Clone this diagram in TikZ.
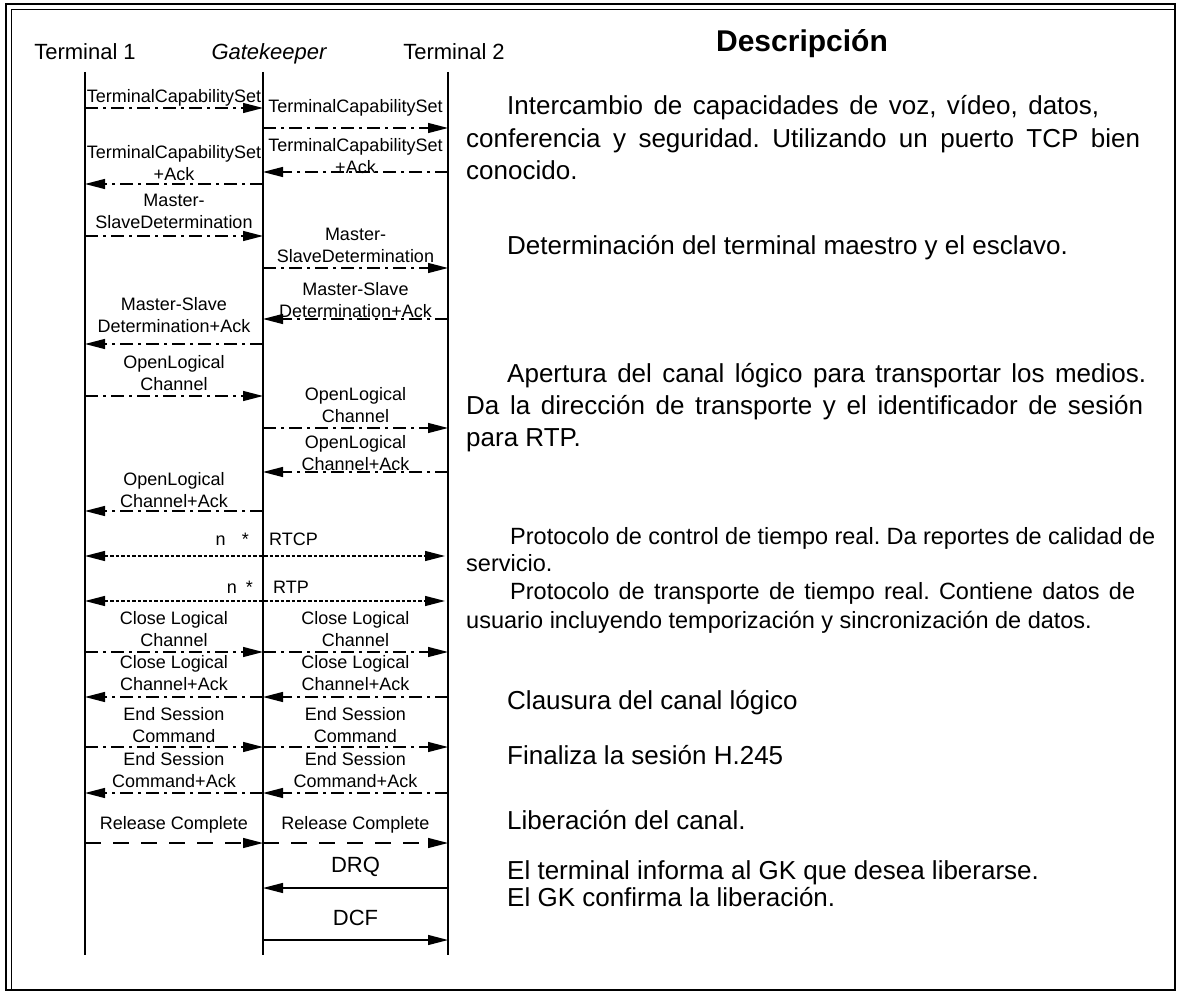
\documentclass[tikz,border=0pt]{standalone}
\usepackage{fontspec}
\setmainfont{Liberation Sans}
\usetikzlibrary{arrows.meta,positioning}
\frenchspacing

% stretch a line of text to a given width (justified line)
\newcommand{\justline}[2]{\makebox[#1][s]{#2}}

\begin{document}
\begin{tikzpicture}[
x=1pt, y=-1pt,
font=\fontsize{18}{21.5}\selectfont,
lbl/.style={align=center, inner sep=1pt},
head/.style={font=\fontsize{22}{26}\selectfont, anchor=base},
desc/.style={font=\fontsize{26}{32}\selectfont, anchor=base west, inner sep=0pt},
descsmall/.style={font=\fontsize{23.5}{28}\selectfont, anchor=base west, inner sep=0pt},
life/.style={line width=1.3pt},
msgtip/.style={-{Triangle[length=20pt,width=10pt]}},
ctrl/.style={msgtip, line width=1.3pt, dash pattern=on 13pt off 5pt on 3pt off 5pt},
media/.style={{Triangle[length=20pt,width=10pt]}-{Triangle[length=20pt,width=10pt]}, line width=1.3pt, dash pattern=on 3.5pt off 2pt, shorten >=3pt},
release/.style={msgtip, line width=1.3pt, dash pattern=on 16pt off 12pt},
ras/.style={msgtip, line width=1.3pt}
]
    \useasboundingbox (0,0) rectangle (1178,992);

    % Double frame
    \draw[line width=2.5pt] (6,4) rectangle (1175,990);
    \draw[line width=0.8pt] (11.5,990) -- (11.5,9.5) -- (1175,9.5);

    % Column heads
    \node[head] (t1) at (85,60) {Terminal 1};
    \node[head, font=\fontsize{22}{26}\selectfont\itshape] (gk) at (269,60) {Gatekeeper};
    \node[head] (t2) at (454,60) {Terminal 2};
    \node[head, font=\fontsize{30}{36}\selectfont\bfseries] (descr) at (802,52) {Descripción};

    % Lifelines
    \draw[life] (85,72) coordinate (t1top) -- (85,955) coordinate (t1bot);
    \draw[life] (263,72) coordinate (gktop) -- (263,955) coordinate (gkbot);
    \draw[life] (448,72) coordinate (t2top) -- (448,955) coordinate (t2bot);

    % One point on each lifeline per message row
    \foreach \n/\y in {1/108,2/128,3/172,4/184,5/236,6/268,7/319,8/344,9/396,10/428,11/472,
                       12/511,13/556,14/601,15/652,16/697,17/747,18/793,19/843,20/888,21/940}{
        \coordinate (t1-\n) at (85,\y);
        \coordinate (gk-\n) at (263,\y);
        \coordinate (t2-\n) at (448,\y);
    }

    % H.245 capability exchange
    \draw[ctrl] (t1-1) -- node[lbl,above] {TerminalCapabilitySet} (gk-1);
    \draw[ctrl] (gk-2) -- node[lbl,above,yshift=10pt] {TerminalCapabilitySet} (t2-2);
    \draw[ctrl] (t2-3) -- node[lbl,above,yshift=-3pt] {TerminalCapabilitySet\\+Ack} (gk-3);
    \draw[ctrl] (gk-4) -- node[lbl,above,yshift=2pt] {TerminalCapabilitySet\\+Ack} (t1-4);

    % master / slave
    \draw[ctrl] (t1-5) -- node[lbl,above,yshift=6pt] {Master-\\SlaveDetermination} (gk-5);
    \draw[ctrl] (gk-6) -- node[lbl,above,yshift=4pt] {Master-\\SlaveDetermination} (t2-6);
    \draw[ctrl] (t2-7) -- node[lbl,above] {Master-Slave\\Determination+Ack} (gk-7);
    \draw[ctrl] (gk-8) -- node[lbl,above,yshift=10pt] {Master-Slave\\Determination+Ack} (t1-8);

    % logical channels
    \draw[ctrl] (t1-9) -- node[lbl,above,yshift=4pt] {OpenLogical\\Channel} (gk-9);
    \draw[ctrl] (gk-10) -- node[lbl,above,yshift=4pt] {OpenLogical\\Channel} (t2-10);
    \draw[ctrl] (t2-11) -- node[lbl,above] {OpenLogical\\Channel+Ack} (gk-11);
    \draw[ctrl] (gk-12) -- node[lbl,above,yshift=2pt] {OpenLogical\\Channel+Ack} (t1-12);

    % media streams
    \draw[media] (t1-13) -- (t2-13);
    \node[anchor=base east, inner sep=0pt] (rtcpn) at (249,545) {n\hspace{0.9em}*};
    \node[anchor=base west, inner sep=0pt] (rtcp) at (269,545) {RTCP};
    \draw[media] (t1-14) -- (t2-14);
    \node[anchor=base east, inner sep=0pt] (rtpn) at (253,593) {n\hspace{0.5em}*};
    \node[anchor=base west, inner sep=0pt] (rtp) at (273,593) {RTP};

    % closing
    \draw[ctrl] (t1-15) -- node[lbl,above,yshift=4pt] {Close Logical\\Channel} (gk-15);
    \draw[ctrl] (gk-15) -- node[lbl,above,yshift=4pt] {Close Logical\\Channel} (t2-15);
    \draw[ctrl] (gk-16) -- node[lbl,above,yshift=5pt] {Close Logical\\Channel+Ack} (t1-16);
    \draw[ctrl] (t2-16) -- node[lbl,above,yshift=5pt] {Close Logical\\Channel+Ack} (gk-16);
    \draw[ctrl] (t1-17) -- node[lbl,above,yshift=3pt] {End Session\\Command} (gk-17);
    \draw[ctrl] (gk-17) -- node[lbl,above,yshift=3pt] {End Session\\Command} (t2-17);
    \draw[ctrl] (gk-18) -- node[lbl,above,yshift=4pt] {End Session\\Command+Ack} (t1-18);
    \draw[ctrl] (t2-18) -- node[lbl,above,yshift=4pt] {End Session\\Command+Ack} (gk-18);

    % release
    \draw[release] (t1-19) -- node[lbl,above,yshift=8.5pt] {Release Complete} (gk-19);
    \draw[release] (gk-19) -- node[lbl,above,yshift=8.5pt] {Release Complete} (t2-19);
    \draw[ras] (t2-20) -- node[lbl,above,yshift=10pt,font=\fontsize{22}{26}\selectfont] {DRQ} (gk-20);
    \draw[ras] (gk-21) -- node[lbl,above,yshift=13pt,font=\fontsize{22}{26}\selectfont] {DCF} (t2-21);

    % Description column
    \node[desc] (d1a) at (507,115) {\justline{592pt}{Intercambio de capacidades de voz, vídeo, datos,}};
    \node[desc] (d1b) at (466,148) {\justline{674pt}{conferencia y seguridad. Utilizando un puerto TCP bien}};
    \node[desc] (d1c) at (466,180) {conocido.};
    \node[desc] (d2) at (507,255) {Determinación del terminal maestro y el esclavo.};
    \node[desc] (d3a) at (507,382) {\justline{639pt}{Apertura del canal lógico para transportar los medios.}};
    \node[desc] (d3b) at (466,414) {\justline{677pt}{Da la dirección de transporte y el identificador de sesión}};
    \node[desc] (d3c) at (466,446) {para RTP.};
    \node[descsmall] (d4a) at (510,544) {\justline{645pt}{Protocolo de control de tiempo real. Da reportes de calidad de}};
    \node[descsmall] (d4b) at (466,571) {servicio.};
    \node[descsmall] (d5a) at (510,599) {\justline{625pt}{Protocolo de transporte de tiempo real. Contiene datos de}};
    \node[descsmall] (d5b) at (466,628) {usuario incluyendo temporización y sincronización de datos.};
    \node[desc] (d6) at (507,709) {Clausura del canal lógico};
    \node[desc] (d7) at (507,764) {Finaliza la sesión H.245};
    \node[desc] (d8) at (507,829) {Liberación del canal.};
    \node[desc] (d9a) at (507,879) {El terminal informa al GK que desea liberarse.};
    \node[desc] (d9b) at (507,906) {El GK confirma la liberación.};
\end{tikzpicture}
\end{document}
